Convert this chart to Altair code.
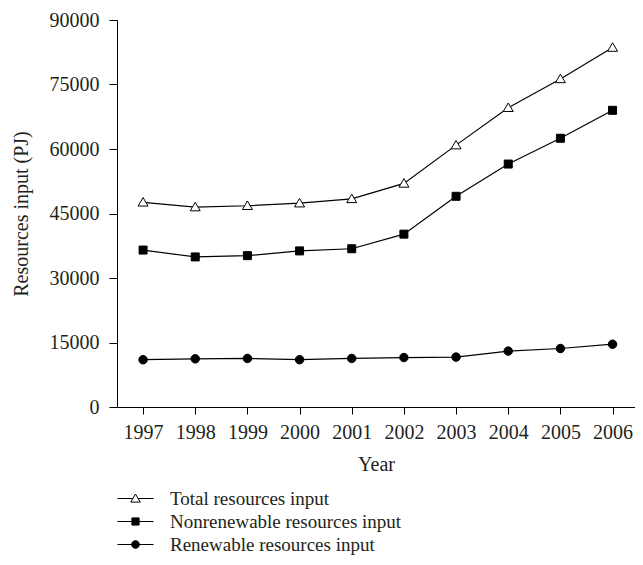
import altair as alt
import pandas as pd

years = [1997, 1998, 1999, 2000, 2001, 2002, 2003, 2004, 2005, 2006]
total = [47600, 46500, 46800, 47400, 48400, 52000, 60900, 69600, 76300, 83600]
nonrenewable = [36500, 34900, 35200, 36300, 36800, 40200, 49000, 56500, 62500, 69000]
renewable = [11000, 11200, 11300, 11000, 11300, 11500, 11600, 13000, 13600, 14600]
series_names = ["Total resources input", "Nonrenewable resources input", "Renewable resources input"]
y_ticks = [0, 15000, 30000, 45000, 60000, 75000, 90000]

rows = []
for name, vals in zip(series_names, [total, nonrenewable, renewable]):
    for yr, v in zip(years, vals):
        rows.append({"year": yr, "value": v, "series": name})
df = pd.DataFrame(rows)

FONT = "Liberation Serif"
TXT = "#231f20"
FS = 20

marker_paths = [
    "M0,-0.95L1,0.75L-1,0.75Z",
    "M-0.8,-0.8H0.8V0.8H-0.8Z",
    "M-0.85,0A0.85,0.85 0 1,0 0.85,0A0.85,0.85 0 1,0 -0.85,0Z",
]
legend_paths = [
    "M-4,0H-0.6M0.6,0H4M0,-1L1.05,0.8L-1.05,0.8Z",
    "M-4,0H4M-0.8,-0.8H0.8V0.8H-0.8Z",
    "M-4,0H4M-0.85,0A0.85,0.85 0 1,0 0.85,0A0.85,0.85 0 1,0 -0.85,0Z",
]
fills = ["white", "black", "black"]

x = alt.X(
    "year:Q",
    scale=alt.Scale(domain=[1996.5, 2006.43], nice=False, zero=False),
    axis=alt.Axis(values=years, format="d", title="Year", grid=False,
                  domainColor="black", tickColor="black", tickSize=7,
                  labelFont=FONT, labelFontSize=FS, labelColor=TXT, labelPadding=8,
                  titleFont=FONT, titleFontSize=FS, titleColor=TXT,
                  titleFontWeight="normal", titlePadding=12),
)
y = alt.Y(
    "value:Q",
    scale=alt.Scale(domain=[0, 90000], nice=False),
    axis=alt.Axis(values=y_ticks, format="d", title="Resources input (PJ)", grid=False,
                  domainColor="black", tickColor="black", tickSize=8,
                  labelFont=FONT, labelFontSize=FS, labelColor=TXT, labelPadding=10,
                  titleFont=FONT, titleFontSize=FS, titleColor=TXT,
                  titleFontWeight="normal", titlePadding=18),
)

lines = alt.Chart(df).mark_line(color="black", strokeWidth=1.2).encode(
    x=x, y=y, detail="series:N"
)
points = alt.Chart(df).mark_point(filled=True, size=100, stroke="black", strokeWidth=1, opacity=1).encode(
    x=x, y=y,
    shape=alt.Shape("series:N", scale=alt.Scale(domain=series_names, range=marker_paths), legend=None),
    fill=alt.Fill("series:N", scale=alt.Scale(domain=series_names, range=fills), legend=None),
)

leg = alt.Legend(title=None, orient="none", legendX=9, legendY=469, direction="vertical",
                 labelFont=FONT, labelFontSize=19, labelColor=TXT, labelOffset=25, labelLimit=0,
                 symbolStrokeWidth=1, symbolSize=81, rowPadding=3, padding=0)
legend_layer = alt.Chart(df).transform_filter("datum.value < 0").mark_point(
    filled=True, size=81, stroke="black", strokeWidth=1, opacity=1
).encode(
    x=x, y=y,
    shape=alt.Shape("series:N", scale=alt.Scale(domain=series_names, range=legend_paths), legend=leg),
    fill=alt.Fill("series:N", scale=alt.Scale(domain=series_names, range=fills), legend=leg),
)

chart = alt.layer(lines, points, legend_layer).resolve_scale(
    shape="independent", fill="independent"
).properties(
    width=518, height=387,
    autosize=alt.AutoSizeParams(type="none"),
    padding={"left": 109, "top": 12, "right": 0, "bottom": 149},
).configure_view(strokeOpacity=0)

chart.save("out.html", embed_options={"renderer": "svg", "actions": False})
